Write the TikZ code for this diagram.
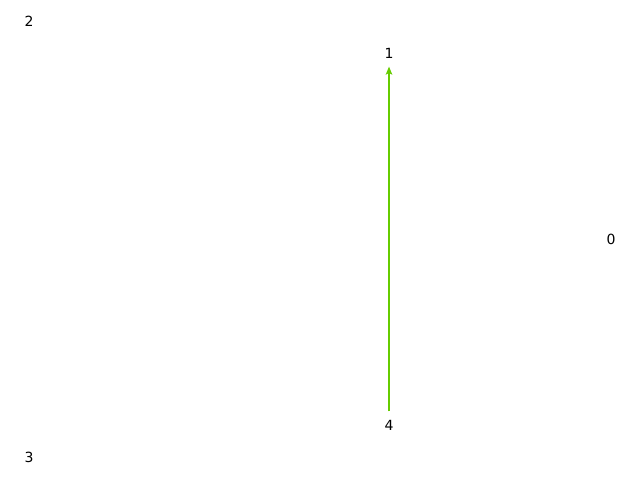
\documentclass[tikz,border=0pt]{standalone}
\usepackage{fontspec}
\setmainfont{DejaVu Sans}
\usetikzlibrary{arrows.meta}
\definecolor{edgegreen}{RGB}{102,204,0}
\begin{document}
\begin{tikzpicture}[x=1pt,y=-1pt,
  lbl/.style={inner sep=8.5pt,outer sep=0pt,font=\fontsize{14}{16}\selectfont},
  edge/.style={draw=edgegreen,line width=1.4pt,-{Stealth[length=8pt,width=6.5pt,inset=1.5pt]}}]
\useasboundingbox (0,0) rectangle (640,480);
\node[lbl] (n0) at (611,239) {0};
\node[lbl] (n1) at (389,53) {1};
\node[lbl] (n2) at (29,21) {2};
\node[lbl] (n3) at (29,457) {3};
\node[lbl] (n4) at (389,425) {4};
\draw[edge] (n4) -- (n1);
\end{tikzpicture}
\end{document}
